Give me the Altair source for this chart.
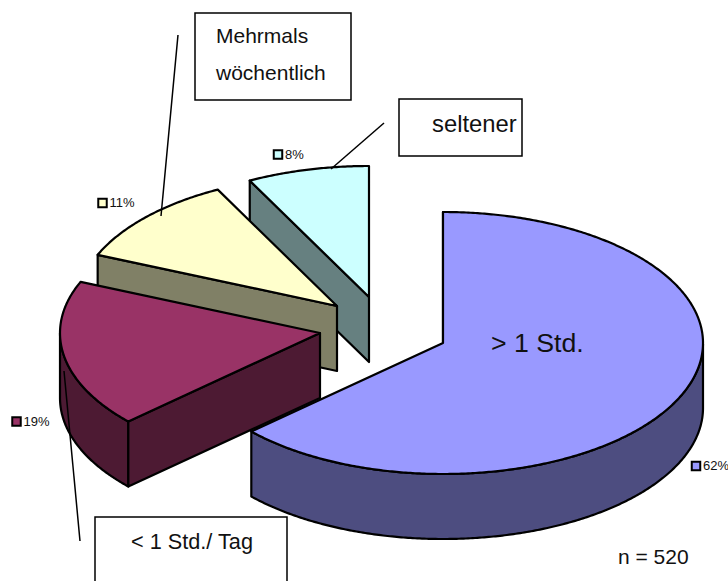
import math
import altair as alt
import pandas as pd

# Shares of the four answer groups, clockwise from twelve o'clock
groups = ["> 1 Std.", "< 1 Std./ Tag", "Mehrmals wöchentlich", "seltener"]
shares = [62, 19, 11, 8]
share_labels = ["62%", "19%", "11%", "8%"]
top_colors = ["#9999FF", "#993366", "#FFFFCC", "#CCFFFF"]
side_colors = ["#4D4D80", "#4D1A33", "#808066", "#668080"]

# Pie layout: the exploded position of each slice's tip, in pixels
tips = [(443, 343), (320, 333), (337, 306), (369, 297)]
RX, RY, DEPTH = 260, 131, 65
paint_order = [0, 3, 2, 1]
# Degrees the tilted view adds at each slice boundary
view_shift = [0, 4.3, 1.4, 1.5, 0]


def view_angle(index, fraction):
    # Slice angle after the view correction, at a fraction of the slice's sweep
    start = sum(shares[:index]) * 3.6
    sweep = shares[index] * 3.6
    shift = view_shift[index] + (view_shift[index + 1] - view_shift[index]) * fraction
    return math.radians(start + sweep * fraction + shift)


def rim(index, drop=0, front_only=False):
    tip = tips[index]
    steps = max(2, int(7.2 * shares[index]))
    pts = []
    for i in range(steps + 1):
        t = view_angle(index, i / steps)
        if front_only and math.cos(t) > 0:
            continue
        pts.append([tip[0] + RX * math.sin(t), tip[1] - RY * math.cos(t) + drop])
    return pts


def polygon(ring, fill):
    closed = ring + [ring[0]]
    return {
        "type": "Feature",
        "properties": {"fill": fill},
        "geometry": {"type": "Polygon", "coordinates": [closed]},
    }


def slice_faces(index):
    tip = tips[index]
    side, top = side_colors[index], top_colors[index]
    upper = rim(index)
    faces = []

    # Outer wall: only the part of the rim that faces the viewer
    wall_top = rim(index, front_only=True)
    wall_low = rim(index, DEPTH, front_only=True)
    if wall_top:
        faces.append(polygon(wall_top + wall_low[::-1], side))

    # Cut face along the slice's leading edge; the trailing one stays hidden
    edge = upper[0]
    faces.append(
        polygon(
            [list(tip), edge, [edge[0], edge[1] + DEPTH], [tip[0], tip[1] + DEPTH]],
            side,
        )
    )
    faces.append(polygon([list(tip)] + upper, top))
    return faces


features = [face for i in paint_order for face in slice_faces(i)]

pie = (
    alt.Chart(alt.Data(values=features))
    .mark_geoshape(stroke="black", strokeWidth=2.2, strokeJoin="round")
    .encode(fill=alt.Fill("properties.fill:N", scale=None, legend=None))
    .project(type="identity", scale=1, translate=[0, 0])
)

# Value labels with their colour keys
key_x = [696, 16.5, 102.5, 278]
key_y = [466, 421.5, 203, 154.5]
keys = pd.DataFrame({"x": key_x, "y": key_y, "fill": top_colors, "label": share_labels})
key_marks = (
    alt.Chart(keys)
    .mark_square(size=72, stroke="black", strokeWidth=2, opacity=1)
    .encode(
        x=alt.X("x:Q", scale=None, axis=None),
        y=alt.Y("y:Q", scale=None, axis=None),
        fill=alt.Fill("fill:N", scale=None, legend=None),
    )
)
key_text = (
    alt.Chart(keys)
    .mark_text(align="left", baseline="middle", font="Liberation Sans", fontSize=13, dx=7, color="#111111")
    .encode(
        x=alt.X("x:Q", scale=None, axis=None),
        y=alt.Y("y:Q", scale=None, axis=None),
        text="label:N",
    )
)

# Leader lines from the boxes to their slices
leaders = pd.DataFrame(
    {"x": [178, 384, 64], "y": [35, 123, 371], "x2": [161, 331, 80], "y2": [216, 169, 541]}
)
leader_marks = (
    alt.Chart(leaders)
    .mark_rule(color="black", strokeWidth=1.5)
    .encode(
        x=alt.X("x:Q", scale=None, axis=None),
        y=alt.Y("y:Q", scale=None, axis=None),
        x2="x2:Q",
        y2="y2:Q",
    )
)

# Caption boxes
boxes = pd.DataFrame(
    {"x": [195, 399, 95], "x2": [351, 522, 287], "y": [13, 99, 517], "y2": [100, 156, 600]}
)
box_marks = (
    alt.Chart(boxes)
    .mark_rect(fill="white", stroke="black", strokeWidth=1.5, clip=True)
    .encode(
        x=alt.X("x:Q", scale=None, axis=None),
        x2="x2:Q",
        y=alt.Y("y:Q", scale=None, axis=None),
        y2="y2:Q",
    )
)

# Captions set in the text boxes and on the chart
caption_text = ["Mehrmals", "wöchentlich", "seltener", "< 1 Std./ Tag", "> 1 Std.", "n = 520"]
caption_x = [216, 216, 432, 131, 491, 618]
caption_y = [37, 73.5, 125, 541.5, 344, 557.5]
caption_size = [21, 21, 23.8, 21.7, 26.7, 21]
captions = pd.DataFrame(
    {"text": caption_text, "x": caption_x, "y": caption_y, "size": caption_size}
)
caption_marks = (
    alt.Chart(captions)
    .mark_text(align="left", baseline="middle", font="Liberation Sans", color="#111111")
    .encode(
        x=alt.X("x:Q", scale=None, axis=None),
        y=alt.Y("y:Q", scale=None, axis=None),
        text="text:N",
        size=alt.Size("size:Q", scale=None, legend=None),
    )
)

chart = (
    alt.layer(pie, key_marks, key_text, box_marks, leader_marks, caption_marks)
    .properties(
        width=728,
        height=581,
        padding=0,
        autosize=alt.AutoSizeParams(type="none"),
        background="white",
    )
    .configure_view(stroke=None)
)

chart.save("out.html", embed_options={"renderer": "svg", "actions": False})
